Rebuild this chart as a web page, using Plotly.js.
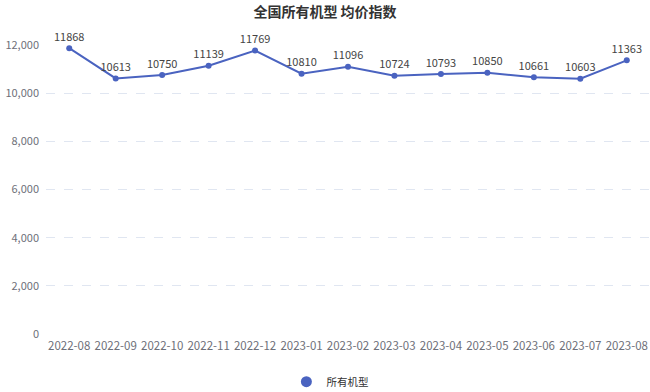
<!DOCTYPE html>
<html>
<head>
<meta charset="utf-8">
<script src="https://cdn.plot.ly/plotly-3.0.1.min.js"></script>
<style>html,body{margin:0;padding:0;background:#fff;}#chart{width:650px;height:392px;}</style>
</head>
<body>
<div id="chart"></div>
<script>
const categories = ["2022-08","2022-09","2022-10","2022-11","2022-12","2023-01","2023-02","2023-03","2023-04","2023-05","2023-06","2023-07","2023-08"];
const values = [11868,10613,10750,11139,11769,10810,11096,10724,10793,10850,10661,10603,11363];
const seriesName = "所有机型";
const chartTitle = "全国所有机型 均价指数";
const yTicks = [0,2000,4000,6000,8000,10000,12000];
const yTickLabels = ["0","2,000","4,000","6,000","8,000","10,000","12,000"];

const font = '"Noto Sans CJK SC", "Noto Sans", sans-serif';
const blue = '#4a63c0';

const traces = [
  {
    x: categories, y: values, type: 'scatter', mode: 'lines+markers+text',
    line: {color: blue, width: 2},
    marker: {color: blue, size: 6},
    text: values.map(String), textposition: 'top center',
    textfont: {family: font, size: 11, color: '#444'},
    showlegend: false, hoverinfo: 'x+y', cliponaxis: false
  },
  {
    x: [null], y: [null], type: 'scatter', mode: 'markers', name: seriesName,
    marker: {color: blue, size: 11}, showlegend: true
  }
];

const layout = {
  width: 650, height: 392,
  margin: {l: 46, r: 0, t: 45, b: 58, autoexpand: false},
  paper_bgcolor: '#fff', plot_bgcolor: '#fff',
  title: {text: '<b>' + chartTitle + '</b>', x: 0.5, xanchor: 'center', y: 0.969, yanchor: 'middle',
          font: {family: font, size: 14, color: '#333'}},
  xaxis: {
    type: 'category', range: [-0.5, categories.length - 0.5],
    showgrid: false, zeroline: false, showline: false, automargin: false,
    ticks: '', tickangle: 0, ticklabelstandoff: 3,
    tickfont: {family: font, size: 11.5, color: '#6e7079'}, fixedrange: true
  },
  yaxis: {
    range: [0, 12000], tickvals: yTicks, ticktext: yTickLabels, automargin: false,
    showgrid: true, gridcolor: '#e0e6f1', griddash: 'dash', gridwidth: 1,
    zeroline: false, showline: false, ticks: '', ticklabelstandoff: 6,
    tickfont: {family: font, size: 11, color: '#6e7079'}, fixedrange: true
  },
  showlegend: true,
  legend: {orientation: 'h', x: 0.47, xanchor: 'center', y: -0.165, yanchor: 'middle',
           font: {family: font, size: 10.5, color: '#333'}, itemwidth: 30}
};

Plotly.newPlot('chart', traces, layout, {displayModeBar: false, staticPlot: true});
</script>
</body>
</html>
